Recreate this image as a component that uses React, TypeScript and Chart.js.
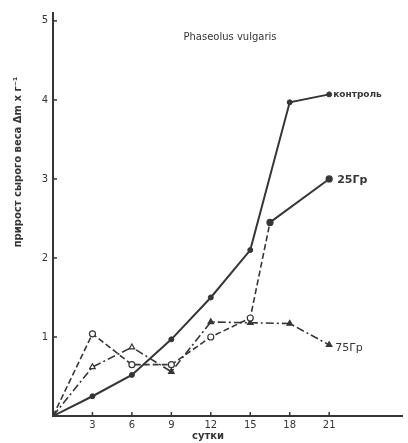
import React, { useEffect, useRef } from "react";
import { Chart, registerables } from "chart.js";
Chart.register(...registerables);

const controlDays = [0, 3, 6, 9, 12, 15, 18, 21];
const controlValues = [0, 0.25, 0.52, 0.97, 1.5, 2.1, 3.97, 4.07];
const gy25Days = [0, 3, 6, 9, 12, 15, 16.5, 21];
const gy25Values = [0, 1.04, 0.65, 0.65, 1.0, 1.24, 2.45, 3.0];
const gy75Days = [0, 3, 6, 9, 12, 15, 18, 21];
const gy75Values = [0, 0.62, 0.87, 0.56, 1.19, 1.18, 1.17, 0.9];
const xTickValues = [3, 6, 9, 12, 15, 18, 21];
const yTickValues = [1, 2, 3, 4, 5];
const seriesLabels = ["контроль", "25Гр", "75Гр"];
const chartTitle = "Phaseolus vulgaris";
const xTitle = "сутки";
const yTitle = "прирост сырого веса Δm x г⁻¹";

const INK = "#363636";

const toPts = (xs: number[], ys: number[]) => xs.map((x, i) => ({ x, y: ys[i] }));

export default function App() {
  const ref = useRef<HTMLCanvasElement>(null);
  useEffect(() => {
    document.body.style.margin = "0";
    const canvas = ref.current;
    if (!canvas) return;

    const overlay = {
      id: "overlay",
      afterDraw(chart: any) {
        const ctx = chart.ctx;
        const xs = chart.scales.x;
        const ys = chart.scales.y;
        const area = chart.chartArea;
        ctx.save();
        ctx.strokeStyle = INK;
        ctx.lineWidth = 1.5;
        xTickValues.forEach((v) => {
          const px = xs.getPixelForValue(v);
          ctx.beginPath();
          ctx.moveTo(px, area.bottom);
          ctx.lineTo(px, area.bottom - 4);
          ctx.stroke();
        });
        yTickValues.forEach((v) => {
          const py = ys.getPixelForValue(v);
          ctx.beginPath();
          ctx.moveTo(area.left, py);
          ctx.lineTo(area.left + 4, py);
          ctx.stroke();
        });
        ctx.fillStyle = INK;
        ctx.textBaseline = "middle";
        ctx.font = "10px 'DejaVu Sans'";
        ctx.textAlign = "center";
        ctx.fillText(chartTitle, 230, 37);
        ctx.font = "bold 10px 'DejaVu Sans'";
        ctx.fillText(xTitle, 208, 436);
        ctx.save();
        ctx.translate(18, 162);
        ctx.rotate(-Math.PI / 2);
        ctx.font = "bold 10px 'DejaVu Sans'";
        ctx.fillText(yTitle, 0, 0);
        ctx.restore();
        ctx.textAlign = "left";
        const lastC = controlValues.length - 1;
        ctx.font = "bold 9px 'DejaVu Sans'";
        ctx.fillText(
          seriesLabels[0],
          xs.getPixelForValue(controlDays[lastC]) + 4,
          ys.getPixelForValue(controlValues[lastC])
        );
        const last25 = gy25Values.length - 1;
        ctx.font = "bold 11px 'DejaVu Sans'";
        ctx.fillText(
          seriesLabels[1],
          xs.getPixelForValue(gy25Days[last25]) + 8,
          ys.getPixelForValue(gy25Values[last25]) + 1
        );
        const last75 = gy75Values.length - 1;
        ctx.font = "11px 'DejaVu Sans'";
        ctx.fillText(
          seriesLabels[2],
          xs.getPixelForValue(gy75Days[last75]) + 6,
          ys.getPixelForValue(gy75Values[last75]) + 3
        );
        ctx.restore();
      },
    };

    const chart = new Chart(canvas, {
      type: "line",
      data: {
        datasets: [
          {
            label: seriesLabels[0],
            data: toPts(controlDays, controlValues),
            borderColor: INK,
            borderWidth: 2,
            backgroundColor: INK,
            pointBackgroundColor: INK,
            pointBorderColor: INK,
            pointRadius: controlValues.map((_, i) => (i === 0 ? 0 : 2.5)),
            pointBorderWidth: 1,
          },
          {
            label: seriesLabels[1],
            data: toPts(gy25Days, gy25Values),
            borderColor: INK,
            borderWidth: 1.6,
            pointBorderColor: INK,
            pointBackgroundColor: gy25Values.map((_, i) => (i >= 6 ? INK : "#ffffff")),
            pointRadius: gy25Values.map((_, i) => (i === 0 ? 0 : 3)),
            pointBorderWidth: 1.2,
            segment: {
              borderDash: (c: any) => (c.p0DataIndex >= 6 ? [] : [6, 3]),
              borderWidth: (c: any) => (c.p0DataIndex >= 6 ? 2 : 1.6),
            },
          },
          {
            label: seriesLabels[2],
            data: toPts(gy75Days, gy75Values),
            borderColor: INK,
            borderWidth: 1.6,
            borderDash: [8, 3, 2, 3],
            pointStyle: "triangle",
            pointBorderColor: INK,
            pointBackgroundColor: gy75Values.map((_, i) => (i === 1 || i === 2 ? "#ffffff" : INK)),
            pointRadius: gy75Values.map((_, i) => (i === 0 ? 0 : 3.2)),
            pointBorderWidth: 1.2,
          },
        ],
      },
      options: {
        responsive: false,
        animation: false,
        layout: { padding: { top: 13, left: 0, right: 0, bottom: 0 } },
        plugins: {
          legend: { display: false },
          title: { display: false },
          tooltip: { enabled: false },
        },
        scales: {
          x: {
            type: "linear",
            min: 0,
            max: 26.6,
            grid: { display: false, drawTicks: false },
            border: { display: true, color: INK, width: 2 },
            afterBuildTicks: (s: any) => {
              s.ticks = xTickValues.map((v) => ({ value: v }));
            },
            afterFit: (s: any) => {
              s.height = 27;
            },
            ticks: {
              padding: 3,
              color: INK,
              font: { family: "'DejaVu Sans'", size: 10 },
              maxRotation: 0,
              autoSkip: false,
            },
          },
          y: {
            type: "linear",
            min: 0,
            max: 5.1,
            grid: { display: false, drawTicks: false },
            border: { display: true, color: INK, width: 2 },
            afterBuildTicks: (s: any) => {
              s.ticks = yTickValues.map((v) => ({ value: v }));
            },
            afterFit: (s: any) => {
              s.width = 53;
            },
            ticks: {
              padding: 5,
              color: INK,
              font: { family: "'DejaVu Sans'", size: 10 },
            },
          },
        },
      },
      plugins: [overlay],
    } as any);
    return () => chart.destroy();
  }, []);

  return (
    <div style={{ width: 408, height: 443, background: "#fff" }}>
      <canvas ref={ref} width={408} height={443} />
    </div>
  );
}
